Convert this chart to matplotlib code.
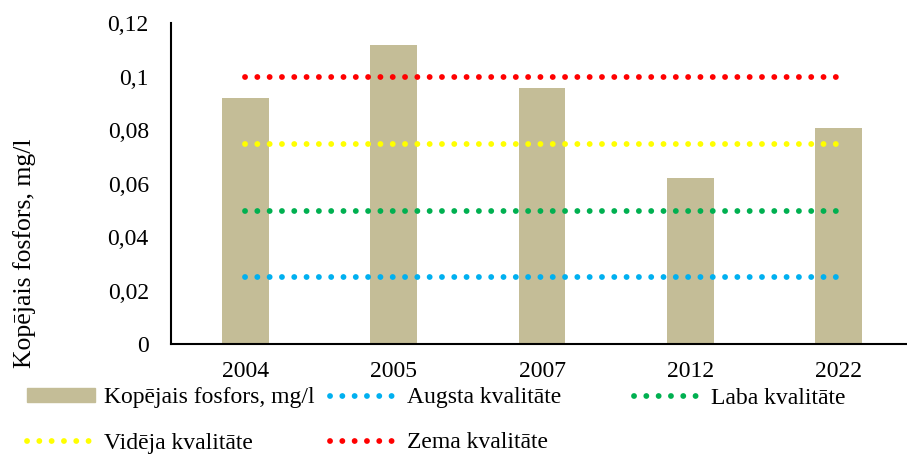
import matplotlib
matplotlib.use('Agg')
import matplotlib.pyplot as plt
from matplotlib.patches import Patch
from matplotlib.lines import Line2D

# Data
years = ['2004', '2005', '2007', '2012', '2022']
phosphorus = [0.092, 0.112, 0.096, 0.062, 0.081]

# Quality class limits (mg/l)
class_names = ['Augsta kvalitāte', 'Laba kvalitāte', 'Vidēja kvalitāte', 'Zema kvalitāte']
class_limits = [0.025, 0.05, 0.075, 0.1]
class_colors = ['#00B0F0', '#00B050', '#FFFF00', '#FF0000']

bar_color = '#C4BD97'
bar_label = 'Kopējais fosfors, mg/l'

plt.rcParams['font.family'] = ['Liberation Serif', 'DejaVu Serif']

W, H = 907, 455
fig = plt.figure(figsize=(W / 100, H / 100), dpi=100)
# axes extends past the right edge like in the reference
ax = fig.add_axes([171 / W, 1 - 344.3 / H, 742 / W, 321 / H])

x = range(len(years))
ax.bar(x, phosphorus, width=0.315, color=bar_color, zorder=2)

# Dotted class lines from first to last category
dot_lw = 4.2
dot_style = (0, (0.01, 2.1))
for lim, col in zip(class_limits, class_colors):
    ax.plot([0, len(years) - 1], [lim, lim], color=col, linewidth=dot_lw,
            linestyle=dot_style, dash_capstyle='round', zorder=3)

ax.set_xlim(-0.5, len(years) - 0.5)
ax.set_ylim(0, 0.12)
ax.set_yticks([0, 0.02, 0.04, 0.06, 0.08, 0.1, 0.12])
ax.set_yticklabels(['0', '0,02', '0,04', '0,06', '0,08', '0,1', '0,12'])
ax.set_xticks(list(x))
ax.set_xticklabels(years)
ax.tick_params(axis='y', length=0, pad=16, labelsize=17)
ax.tick_params(axis='x', length=0, pad=12, labelsize=17)

for s in ['top', 'right']:
    ax.spines[s].set_visible(False)
for s in ['left', 'bottom']:
    ax.spines[s].set_linewidth(1.5)
    ax.spines[s].set_color('black')

fig.text(25 / W, 1 - 253 / H, bar_label, rotation=90, fontsize=18.5,
         ha='center', va='center')

# Legend entries placed individually (Excel-like layout)
handles = [Patch(color=bar_color)]
for col in class_colors:
    handles.append(Line2D([0], [0], color=col, linewidth=dot_lw,
                          linestyle=dot_style, dash_capstyle='round'))
labels = [bar_label] + class_names
# order in reference: bar, Augsta, Laba / Vidēja, Zema
positions = [(27, 398), (330, 398), (634, 398), (27, 443), (330, 443)]
for h, lab, (px, py) in zip(handles, labels, positions):
    fig.legend([h], [lab], loc='center left', bbox_to_anchor=(px / W, 1 - py / H),
               frameon=False, fontsize=17, handlelength=2.9, handletextpad=0.35,
               borderpad=0, borderaxespad=0, handleheight=0.5)

fig.savefig('out.png', dpi=100)
